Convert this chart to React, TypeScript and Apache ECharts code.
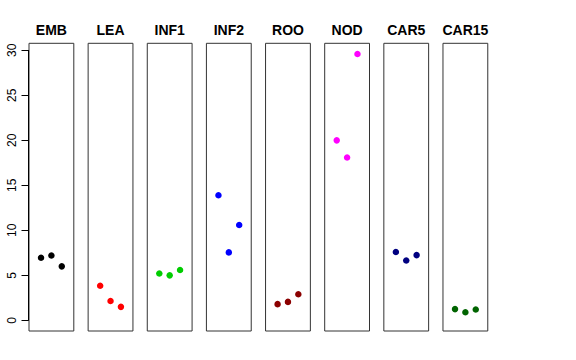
import React, { useEffect, useRef } from "react";
import * as echarts from "echarts";

const categories = ["EMB", "LEA", "INF1", "INF2", "ROO", "NOD", "CAR5", "CAR15"];
const xPositions = [1, 2, 3];
const emb = [6.95, 7.2, 6.0];
const lea = [3.85, 2.15, 1.5];
const inf1 = [5.2, 5.0, 5.6];
const inf2 = [13.9, 7.55, 10.6];
const roo = [1.8, 2.05, 2.9];
const nod = [20.0, 18.1, 29.6];
const car5 = [7.6, 6.65, 7.25];
const car15 = [1.25, 0.9, 1.2];
const seriesValues = [emb, lea, inf1, inf2, roo, nod, car5, car15];
const colors = ["#000000", "#FF0000", "#00CD00", "#0000FF", "#8B0000", "#FF00FF", "#000080", "#006400"];
const yTicks = [0, 5, 10, 15, 20, 25, 30];

const FONT = "'Liberation Sans', Arial, Helvetica, sans-serif";

export default function App() {
  const ref = useRef<HTMLDivElement>(null);
  useEffect(() => {
    if (!ref.current) return;
    const chart = echarts.init(ref.current, undefined, { renderer: "svg" });

    const xlim = [0, 4];
    const ylim = [0, Math.max(...seriesValues.flat())];
    const xr = xlim[1] - xlim[0];
    const yr = ylim[1] - ylim[0];
    const xMin = xlim[0] - 0.04 * xr;
    const xMax = xlim[1] + 0.04 * xr;
    const yMin = ylim[0] - 0.04 * yr;
    const yMax = ylim[1] + 0.04 * yr;

    const left0 = 29;
    const pitch = 59.14;
    const pw = 44.8;
    const top = 43.3;
    const ph = 287.7;

    const grids: any[] = [];
    const xAxes: any[] = [];
    const yAxes: any[] = [];
    const series: any[] = [];
    const graphics: any[] = [];

    categories.forEach((name, i) => {
      const l = left0 + i * pitch;
      grids.push({
        left: l,
        top,
        width: pw,
        height: ph,
        show: true,
        borderColor: "#333",
        borderWidth: 1,
        backgroundColor: "transparent",
      });
      xAxes.push({ type: "value", gridIndex: i, min: xMin, max: xMax, show: false });
      yAxes.push({ type: "value", gridIndex: i, min: yMin, max: yMax, show: false });
      series.push({
        type: "scatter",
        xAxisIndex: i,
        yAxisIndex: i,
        symbol: "circle",
        symbolSize: 6.5,
        itemStyle: { color: colors[i], opacity: 1 },
        data: seriesValues[i].map((v, k) => [xPositions[k], v]),
        silent: true,
      });
      graphics.push({
        type: "text",
        x: l + pw / 2,
        y: 29.7,
        style: {
          text: name,
          align: "center",
          verticalAlign: "middle",
          textAlign: "center",
          textVerticalAlign: "middle",
          fontSize: 14,
          fontWeight: "bold",
          fontFamily: FONT,
          fill: "#000",
        },
      });
    });

    const yTickMin = yTicks[0];
    const yTickMax = yTicks[yTicks.length - 1];
    const axTop = top + ((yMax - yTickMax) / (yMax - yMin)) * ph;
    const axBottom = top + ((yMax - yTickMin) / (yMax - yMin)) * ph;
    const gi = categories.length;
    grids.push({ left: left0 - 0.5, top: axTop, width: pw, height: axBottom - axTop, show: false });
    xAxes.push({ type: "value", gridIndex: gi, min: 0, max: 1, show: false });
    yAxes.push({
      type: "value",
      gridIndex: gi,
      min: yTickMin,
      max: yTickMax,
      interval: yTicks[1] - yTicks[0],
      axisLine: { show: true, lineStyle: { color: "#000", width: 1 } },
      axisTick: { show: true, length: 7, lineStyle: { color: "#000", width: 1 } },
      axisLabel: { rotate: 90, fontSize: 12, color: "#000", fontFamily: FONT, margin: 11 },
      splitLine: { show: false },
    });

    chart.setOption({
      animation: false,
      backgroundColor: "#fff",
      grid: grids,
      xAxis: xAxes,
      yAxis: yAxes,
      series,
      graphic: graphics,
    });
    return () => chart.dispose();
  }, []);
  return (
    <div
      ref={ref}
      style={{ position: "fixed", left: 0, top: 0, width: 576, height: 360 }}
    />
  );
}
